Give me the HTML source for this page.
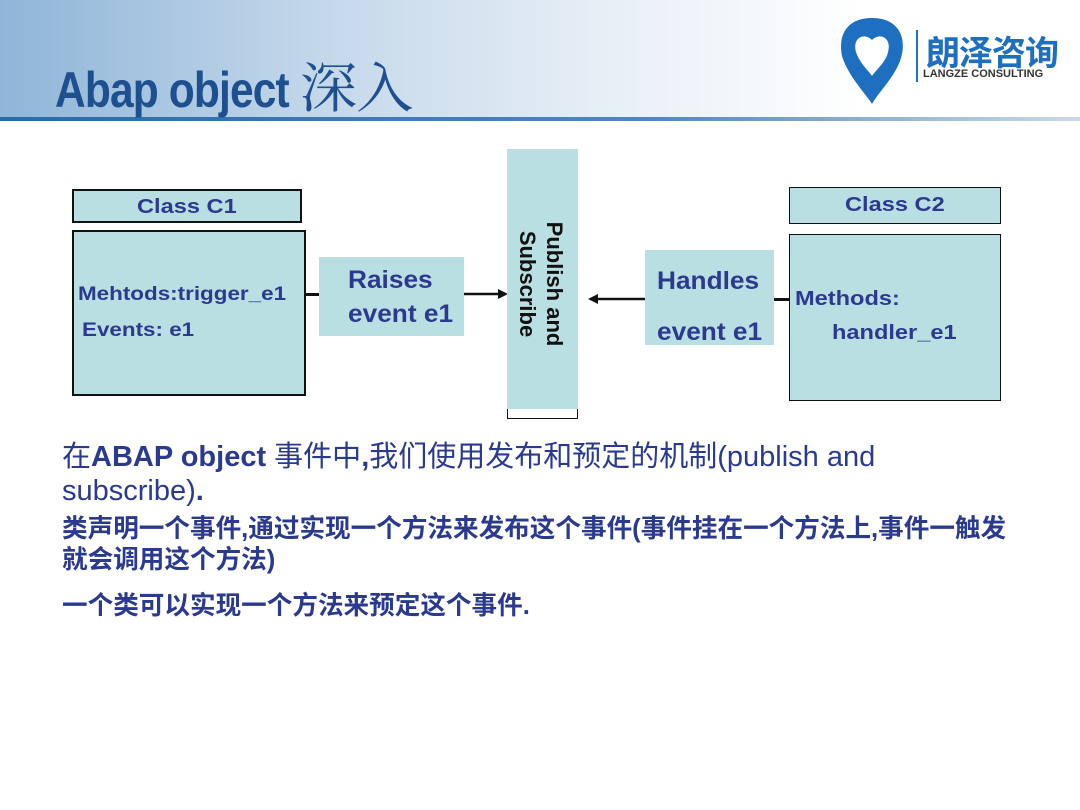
<!DOCTYPE html>
<html><head><meta charset="utf-8"><style>
*{margin:0;padding:0;box-sizing:border-box}
body{width:1080px;height:810px;background:#fff;position:relative;overflow:hidden;font-family:"Liberation Sans","Noto Sans CJK SC",sans-serif}
.hdr{position:absolute;left:0;top:0;width:1080px;height:118px;background:linear-gradient(90deg,#8fb5d8 0%,#c4d8ea 30%,#e6eef6 55%,#ffffff 80%)}
.line{position:absolute;left:0;top:117px;width:1080px;height:4px;background:linear-gradient(90deg,#2a6aa8,#4f86bd 60%,#c9d9ea)}
.title{position:absolute;left:55px;top:46px;font-size:50px;font-weight:bold;color:#1e4f8f;letter-spacing:-1px;transform:scaleX(0.85);transform-origin:left;white-space:nowrap}
.title span{font-family:"Noto Serif CJK SC",serif;font-weight:normal;font-size:54px;display:inline-block;transform:scaleX(1.25);transform-origin:left}
.box{position:absolute;background:#b9dfe3;color:#2b3a8f;font-weight:bold}
.b{border:2px solid #111}
.t{position:absolute;white-space:nowrap}
.s{transform:scaleX(1.18);transform-origin:left}
.p{position:absolute;color:#2b3a8f;white-space:nowrap}
</style></head><body>
<div class="hdr"></div><div class="line"></div>
<div class="title">Abap object <span>深入</span></div>
<svg style="position:absolute;left:836px;top:14px" width="72" height="92" viewBox="0 0 72 92">
<path d="M36 4 C10 4 2 22 6 42 C12 62 30 80 36 90 C44 76 62 60 66 40 C70 20 60 4 36 4Z" fill="#1f6fc0"/>
<path d="M36 26 C28 18 16 24 20 38 C24 50 34 58 36 62 C40 56 50 48 52 38 C56 24 44 18 36 26Z" fill="#fff"/>
</svg>
<div style="position:absolute;left:916px;top:30px;width:2px;height:52px;background:#1f6fc0"></div>
<div class="p" style="left:926px;top:26px;font-size:34px;font-weight:bold;color:#1f6fc0;letter-spacing:-1px">朗泽咨询</div>
<div class="p" style="left:923px;top:68px;font-size:11px;font-weight:bold;color:#333">LANGZE CONSULTING</div>

<div class="box b" style="left:72px;top:189px;width:230px;height:34px"><div class="t s" style="left:63px;top:5px;font-size:20px">Class C1</div></div>
<div class="box b" style="left:72px;top:230px;width:234px;height:166px">
<div class="t s" style="left:4px;top:52px;font-size:19px">Mehtods:trigger_e1</div>
<div class="t s" style="left:8px;top:88px;font-size:19px">Events: e1</div></div>
<div style="position:absolute;left:306px;top:293px;width:13px;height:3px;background:#111"></div>
<div class="box" style="left:319px;top:257px;width:145px;height:79px"><div class="t" style="left:29px;top:6px;font-size:25px;line-height:34px;transform:scaleX(1.05);transform-origin:left">Raises<br>event e1</div></div>
<svg style="position:absolute;left:464px;top:286px" width="44" height="18"><line x1="0" y1="8" x2="36" y2="8" stroke="#111" stroke-width="2.5"/><polygon points="44,8 34,3 34,13" fill="#111"/></svg>
<div style="position:absolute;left:507px;top:409px;width:71px;height:10px;border:1.5px solid #111;border-top:none"></div>
<div class="box" style="left:507px;top:149px;width:71px;height:260px;background:#b9dfe3"></div>
<div class="t" style="left:541px;top:284px;transform:translate(-50%,-50%) rotate(90deg);color:#111;font-weight:bold;font-size:22px;line-height:27px;text-align:center">Publish and<br>Subscribe</div>
<svg style="position:absolute;left:588px;top:290px" width="58" height="18"><polygon points="0,9 10,4 10,14" fill="#111"/><line x1="8" y1="9" x2="58" y2="9" stroke="#111" stroke-width="2.5"/></svg>
<div class="box" style="left:645px;top:250px;width:129px;height:95px"><div class="t" style="left:12px;top:6px;font-size:25px;line-height:51px;transform:scaleX(1.05);transform-origin:left">Handles<br>event e1</div></div>
<div style="position:absolute;left:774px;top:298px;width:15px;height:3px;background:#111"></div>
<div class="box b" style="left:789px;top:187px;width:212px;height:37px;border-width:1.5px"><div class="t s" style="left:55px;top:6px;font-size:20px">Class C2</div></div>
<div class="box b" style="left:789px;top:234px;width:212px;height:167px;border-width:1.5px">
<div class="t s" style="left:5px;top:53px;font-size:20px">Methods:</div>
<div class="t s" style="left:42px;top:87px;font-size:20px">handler_e1</div></div>

<div class="p" style="left:62px;top:440px;font-size:29px;line-height:34px">在<b>ABAP object</b> 事件中<b>,</b>我们使用发布和预定的机制(publish and<br>subscribe)<b>.</b></div>
<div class="p" style="left:62px;top:514px;font-size:25.6px;line-height:31px;font-weight:bold">类声明一个事件,通过实现一个方法来发布这个事件(事件挂在一个方法上,事件一触发<br>就会调用这个方法)</div>
<div class="p" style="left:62px;top:585px;font-size:25.6px;font-weight:bold">一个类可以实现一个方法来预定这个事件.</div>
</body></html>
